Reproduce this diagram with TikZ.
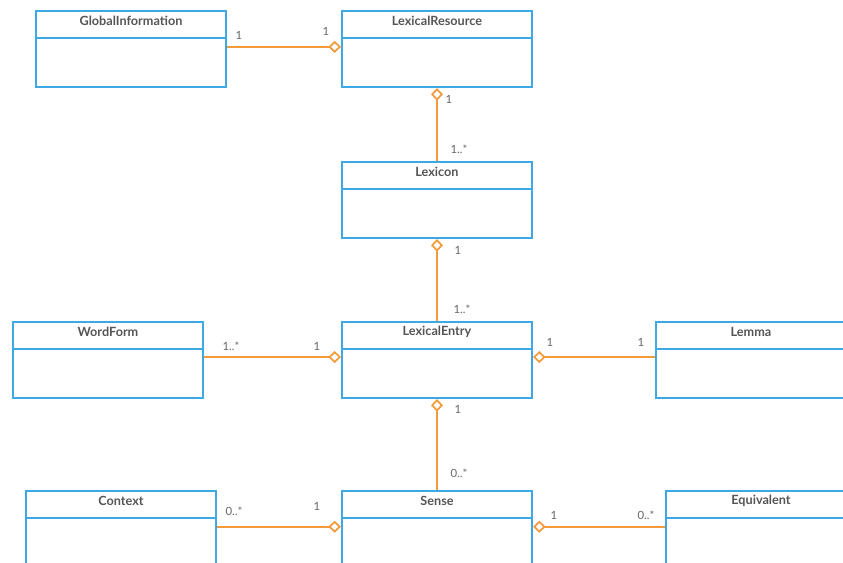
\documentclass[tikz,border=0pt]{standalone}
\usepackage{fontspec}
\setmainfont{Lato}
\usetikzlibrary{arrows.meta}
\definecolor{boxblue}{HTML}{3DA8E3}
\definecolor{linkorange}{HTML}{F39A3B}
\definecolor{txtgray}{HTML}{555555}
\definecolor{multgray}{HTML}{666666}
\tikzset{
  x=0.75pt, y=-0.75pt,
  classbox/.style={draw=boxblue, line width=1.5pt, fill=white, anchor=north west,
    minimum width=142.5pt, minimum height=57pt, inner sep=0pt},
  classname/.style={font=\bfseries\fontsize{9.5}{11}\selectfont, text=txtgray, inner sep=0pt},
  divider/.style={draw=boxblue, line width=1.5pt},
  assoc/.style={draw=linkorange, line width=1.3pt},
  agg/.tip={Diamond[length=9.5pt, width=9pt, fill=white, line width=1.3pt]},
  mult/.style={font=\fontsize{8.5}{10}\selectfont, text=multgray, inner sep=0pt},
}
\newcommand{\umlclass}[4]{%
  \node[classbox] (#1) at (#2,#3) {};
  \node[classname] (#1-name) at ([yshift=-8.3pt]#1.north) {#4};
  \draw[divider] ([yshift=-21pt]#1.north west) -- ([yshift=-21pt]#1.north east);
}
\begin{document}
\begin{tikzpicture}
\clip (0,0) rectangle (843,563);
\fill[white] (0,0) rectangle (843,563);

% classes
\umlclass{gi}{35}{10}{GlobalInformation}
\umlclass{lr}{341}{10}{LexicalResource}
\umlclass{lex}{341}{161}{Lexicon}
\umlclass{wf}{12}{321}{WordForm}
\umlclass{le}{341}{321}{LexicalEntry}
\umlclass{lem}{655}{321}{Lemma}
\umlclass{ctx}{25}{490}{Context}
\umlclass{sen}{341}{490}{Sense}
\umlclass{eq}{665}{490}{Equivalent}

% aggregations
\draw[assoc, -agg] ([yshift=1.6pt]gi.east) -- ([yshift=1.6pt]lr.west);
\draw[assoc, agg-] (lr.south) -- (lex.north);
\draw[assoc, agg-] (lex.south) -- (le.north);
\draw[assoc, -agg] ([yshift=2.2pt]wf.east) -- ([yshift=2.2pt]le.west);
\draw[assoc, agg-] ([yshift=2.2pt]le.east) -- ([yshift=2.2pt]lem.west);
\draw[assoc, agg-] (le.south) -- (sen.north);
\draw[assoc, -agg] ([yshift=1.7pt]ctx.east) -- ([yshift=1.7pt]sen.west);
\draw[assoc, agg-] ([yshift=1.7pt]sen.east) -- ([yshift=1.7pt]eq.west);

% multiplicities
\node[mult] (m1) at (239,35) {1};
\node[mult] (m2) at (326,31) {1};
\node[mult] (m3) at (449,99) {1};
\node[mult] (m4) at (459,149) {1..*};
\node[mult] (m5) at (458,250) {1};
\node[mult] (m6) at (462,309) {1..*};
\node[mult] (m7) at (231,346) {1..*};
\node[mult] (m8) at (317,346) {1};
\node[mult] (m9) at (550,342) {1};
\node[mult] (m10) at (641,342) {1};
\node[mult] (m11) at (458,409) {1};
\node[mult] (m12) at (459,473) {0..*};
\node[mult] (m13) at (234,511) {0..*};
\node[mult] (m14) at (317,506) {1};
\node[mult] (m15) at (554,515) {1};
\node[mult] (m16) at (646,515) {0..*};
\end{tikzpicture}
\end{document}
